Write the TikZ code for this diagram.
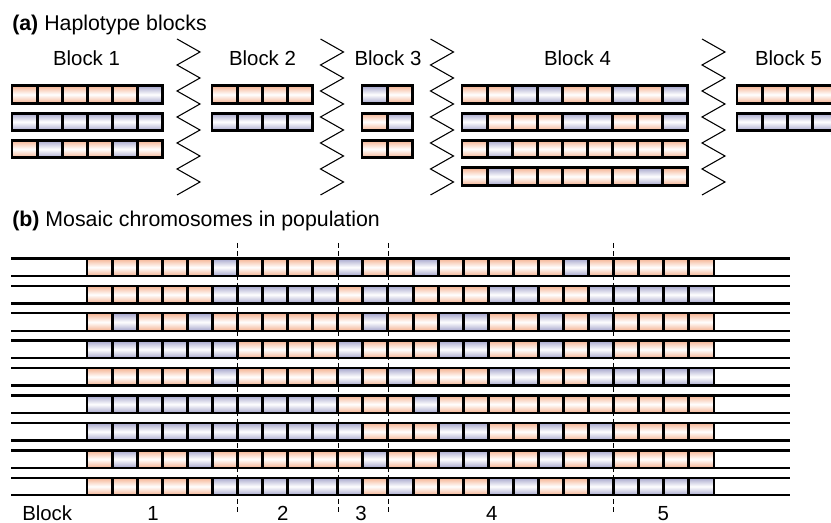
\documentclass[tikz,border=0pt]{standalone}
\usepackage{fontspec}
\setmainfont{Liberation Sans}
\definecolor{hapo}{RGB}{245,178,145}
\definecolor{hapb}{RGB}{166,166,204}
\begin{document}
\begin{tikzpicture}[x=0.75pt, y=-0.75pt, font=\fontsize{15.3}{18}\selectfont, line join=miter,
	lbl/.style={inner sep=0pt, anchor=base},
	ttl/.style={inner sep=0pt, anchor=base west, font=\fontsize{16}{19}\selectfont},
	zig/.style={line width=0.8pt},
	chrom/.style={line width=1.8pt},
	sep/.style={line width=2.2pt},
	blockline/.style={dash pattern=on 3.5pt off 2.5pt, line width=0.75pt}]
	\useasboundingbox (0,0) rectangle (831,523);
	\clip (0,0) rectangle (831,523);
	%\draw[gray!10] (0,0) grid[step=50] (831,523);
	% (a) haplotype blocks
	\node[ttl] (ta) at (12,30.7) {\textbf{(a)} Haplotype blocks};
	\node[lbl] (bl1) at (86.5,66) {Block 1};
	\node[lbl] (bl2) at (262.5,66) {Block 2};
	\node[lbl] (bl3) at (388,66) {Block 3};
	\node[lbl] (bl4) at (577.5,66) {Block 4};
	\node[lbl] (bl5) at (788.5,66) {Block 5};
	\foreach \x in {177,320.5,430.5,702}
		\draw[zig] (\x,39) \foreach \k in {1,...,6} {-- (\x+23,26+26*\k) -- (\x,39+26*\k)};
	\foreach \x/\y/\hap in {12/85.8/{o,o,o,o,o,b}, 12/113.1/{b,b,b,b,b,b}, 12/140.4/{o,b,o,o,b,o},
			212/85.8/{o,o,o,o}, 212/113.1/{b,b,b,b},
			362/85.8/{b,o}, 362/113.1/{o,b}, 362/140.4/{o,o},
			462/85.8/{o,o,b,b,o,o,b,o,b}, 462/113.1/{b,o,o,o,b,b,o,o,b}, 462/140.4/{o,b,o,o,o,o,o,o,o}, 462/167.7/{o,b,o,o,o,o,o,b,o},
			737/85.8/{o,o,o,o}, 737/113.1/{b,b,b,b}}
		\foreach \c [count=\i from 0] in \hap
			\draw[sep, top color=hap\c, bottom color=hap\c, middle color=white] (\x+25.1*\i,\y) rectangle ++(25.1,17.5);
	% (b) mosaic chromosomes
	\node[ttl] (tb) at (12,226.7) {\textbf{(b)} Mosaic chromosomes in population};
	\foreach \x in {237.5,338,388,613.8}
		\draw[blockline] (\x,243) -- (\x,512);
	\foreach \row [count=\r from 0] in {
			{o,o,o,o,o,b, o,o,o,o, b,o, o,b,o,o,o,o,o,b,o, o,o,o,o},
			{o,o,o,o,o,b, b,b,b,b, o,b, b,o,o,o,b,b,o,o,b, b,b,b,b},
			{o,b,o,o,b,o, o,o,o,o, o,b, o,o,b,b,o,o,b,o,b, o,o,o,o},
			{b,b,b,b,b,b, o,o,o,o, b,o, o,o,b,b,o,o,b,o,b, o,o,o,o},
			{o,o,o,o,o,b, o,o,o,o, b,o, b,o,o,o,b,b,o,o,b, b,b,b,b},
			{b,b,b,b,b,b, b,b,b,b, o,o, o,b,o,o,o,o,o,o,o, o,o,o,o},
			{b,b,b,b,b,b, b,b,b,b, b,o, o,o,b,b,o,o,b,o,b, o,o,o,o},
			{o,b,o,o,b,o, o,o,o,o, o,b, o,o,b,b,o,o,b,o,b, o,o,o,o},
			{o,o,o,o,o,b, b,b,b,b, b,o, b,o,o,o,b,b,o,o,b, b,b,b,b}} {
		\pgfmathsetmacro\yt{258.5+27.4*\r}
		\foreach \c [count=\i from 0] in \row
			\shade[top color=hap\c, bottom color=hap\c, middle color=white] (87+25.08*\i,\yt) rectangle ++(25.08,17.5);
		\foreach \i in {0,...,25}
			\draw[sep] (87+25.08*\i,\yt) -- ++(0,17.5);
		\draw[chrom] (11,\yt) -- (790,\yt) (11,\yt+17.5) -- (790,\yt+17.5);
	}
	\node[lbl, anchor=base west] (bk) at (22,520.5) {Block};
	\node[lbl] (n1) at (153,520.5) {1};
	\node[lbl] (n2) at (282.7,520.5) {2};
	\node[lbl] (n3) at (361,520.5) {3};
	\node[lbl] (n4) at (491.7,520.5) {4};
	\node[lbl] (n5) at (663.3,520.5) {5};
\end{tikzpicture}
\end{document}
